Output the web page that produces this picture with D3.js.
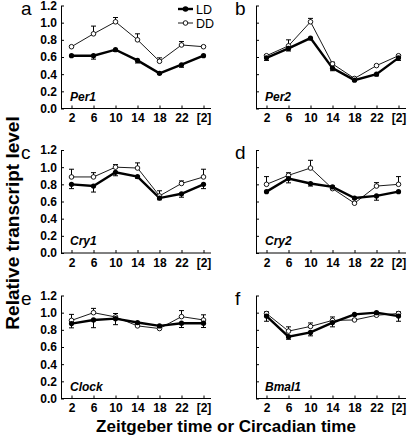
<!DOCTYPE html>
<html><head><meta charset="utf-8">
<script src="https://cdn.jsdelivr.net/npm/d3@7"></script>
<style>body{margin:0;background:#fff}svg{display:block;font-family:"Liberation Sans",Arial,sans-serif}</style>
</head><body><svg id="c" width="410" height="437"></svg>
<script>
const times = ["2","6","10","14","18","22","[2]"];
const yTicks = [0,0.2,0.4,0.6,0.8,1.0,1.2];
const genes = ["Per1","Per2","Cry1","Cry2","Clock","Bmal1"];
const letters = ["a","b","c","d","e","f"];
// LD (light-dark) means and errors
const per1LD = [0.615,0.615,0.685,0.56,0.41,0.51,0.615];
const per1LDerr = [0.01,0.04,0.02,0.03,0.01,0.03,0.01];
const per1DD = [0.72,0.87,1.01,0.80,0.55,0.74,0.72];
const per1DDerr = [0.01,0.09,0.05,0.07,0.04,0.04,0.01];
const per2LD = [0.59,0.70,0.82,0.47,0.33,0.40,0.59];
const per2LDerr = [0.03,0.03,0.02,0.03,0.01,0.02,0.03];
const per2DD = [0.615,0.73,1.01,0.52,0.35,0.50,0.615];
const per2DDerr = [0.01,0.07,0.04,0.02,0.01,0.01,0.01];
const cry1LD = [0.80,0.78,0.94,0.89,0.64,0.69,0.80];
const cry1LDerr = [0.05,0.07,0.04,0.02,0.02,0.04,0.05];
const cry1DD = [0.886,0.886,1.0,0.99,0.665,0.81,0.886];
const cry1DDerr = [0.09,0.05,0.03,0.06,0.06,0.03,0.09];
const cry2LD = [0.715,0.867,0.81,0.77,0.64,0.665,0.715];
const cry2LDerr = [0.01,0.05,0.03,0.02,0.01,0.05,0.01];
const cry2DD = [0.80,0.905,0.99,0.75,0.58,0.78,0.80];
const cry2DDerr = [0.09,0.03,0.09,0.03,0.01,0.04,0.09];
const clockLD = [0.873,0.915,0.93,0.885,0.846,0.877,0.877];
const clockLDerr = [0.05,0.09,0.07,0.01,0.01,0.05,0.05];
const clockDD = [0.91,1.0,0.95,0.846,0.815,0.954,0.915];
const clockDDerr = [0.07,0.05,0.04,0.01,0.01,0.07,0.06];
const bmal1LD = [0.96,0.72,0.77,0.885,0.98,1.0,0.96];
const bmal1LDerr = [0.06,0.03,0.04,0.05,0.01,0.01,0.06];
const bmal1DD = [0.99,0.785,0.84,0.91,0.915,0.97,0.99];
const bmal1DDerr = [0.02,0.05,0.04,0.04,0.01,0.02,0.02];

const LD = [per1LD,per2LD,cry1LD,cry2LD,clockLD,bmal1LD];
const LDerr = [per1LDerr,per2LDerr,cry1LDerr,cry2LDerr,clockLDerr,bmal1LDerr];
const DD = [per1DD,per2DD,cry1DD,cry2DD,clockDD,bmal1DD];
const DDerr = [per1DDerr,per2DDerr,cry1DDerr,cry2DDerr,clockDDerr,bmal1DDerr];

const svg = d3.select("#c");
const colX = [61, 256];
const rowTop = [5.5, 150, 295.5];
const letterBase = [14.5, 158.5, 305];
const plotH = 103, axW = 150;

genes.forEach((g, i) => {
  const col = i % 2, row = Math.floor(i / 2);
  const x0 = colX[col], top = rowTop[row], bottom = top + plotH;
  const x = d3.scalePoint().domain(times).range([x0 + 10.5, x0 + 142.5]);
  const y = d3.scaleLinear().domain([0, 1.2]).range([bottom, top]);
  const gg = svg.append("g");

  // y axis
  const ya = d3.axisLeft(y).tickValues(yTicks).tickSizeInner(-3).tickSizeOuter(0).tickPadding(4)
    .tickFormat(col === 0 ? d3.format(".1f") : () => "");
  const yg = gg.append("g").attr("transform", `translate(${x0},0)`).call(ya);
  yg.selectAll("text").attr("font-size", 12).attr("font-weight", "bold").attr("fill", "#000");
  yg.selectAll("path,line").attr("stroke", "#000").attr("stroke-width", 1);

  // x axis
  const xa = d3.axisBottom(x).tickSizeInner(-3).tickSizeOuter(0).tickPadding(5);
  const xg = gg.append("g").attr("transform", `translate(0,${bottom})`).call(xa);
  xg.select(".domain").remove();
  xg.selectAll("text").attr("font-size", 12).attr("font-weight", "bold").attr("fill", "#000");
  xg.selectAll("line").attr("stroke", "#000");
  gg.append("line").attr("x1", x0).attr("x2", x0 + axW).attr("y1", bottom).attr("y2", bottom)
    .attr("stroke", "#000").attr("stroke-width", 1);

  // panel letter
  gg.append("text").attr("x", col === 0 ? 21 : 235).attr("y", letterBase[row])
    .attr("font-size", 19).text(letters[i]);
  // gene label
  gg.append("text").attr("x", x0 + 9).attr("y", bottom - 8)
    .attr("font-size", 12).attr("font-weight", "bold").attr("font-style", "italic").text(g);

  const line = d3.line().x((d, k) => x(times[k])).y(d => y(d));
  // DD error bars (upward)
  DD[i].forEach((v, k) => {
    const cx = x(times[k]), yv = y(v), ye = y(v + DDerr[i][k]);
    gg.append("line").attr("x1", cx).attr("x2", cx).attr("y1", yv).attr("y2", ye).attr("stroke", "#000").attr("stroke-width", 1);
    gg.append("line").attr("x1", cx - 2.5).attr("x2", cx + 2.5).attr("y1", ye).attr("y2", ye).attr("stroke", "#000").attr("stroke-width", 1);
  });
  // LD error bars (downward)
  LD[i].forEach((v, k) => {
    const cx = x(times[k]), yv = y(v), ye = y(v - LDerr[i][k]);
    gg.append("line").attr("x1", cx).attr("x2", cx).attr("y1", yv).attr("y2", ye).attr("stroke", "#000").attr("stroke-width", 1);
    gg.append("line").attr("x1", cx - 2.5).attr("x2", cx + 2.5).attr("y1", ye).attr("y2", ye).attr("stroke", "#000").attr("stroke-width", 1);
  });
  gg.append("path").attr("d", line(DD[i])).attr("fill", "none").attr("stroke", "#000").attr("stroke-width", 0.9);
  gg.append("path").attr("d", line(LD[i])).attr("fill", "none").attr("stroke", "#000").attr("stroke-width", 2.4);
  gg.selectAll(".dd").data(DD[i]).join("circle").attr("class", "dd")
    .attr("cx", (d, k) => x(times[k])).attr("cy", d => y(d)).attr("r", 2.3)
    .attr("fill", "#fff").attr("stroke", "#000").attr("stroke-width", 0.9);
  gg.selectAll(".ld").data(LD[i]).join("circle").attr("class", "ld")
    .attr("cx", (d, k) => x(times[k])).attr("cy", d => y(d)).attr("r", 2.6).attr("fill", "#000");
});

// legend
const lg = svg.append("g");
lg.append("line").attr("x1", 178).attr("x2", 193).attr("y1", 9).attr("y2", 9).attr("stroke", "#000").attr("stroke-width", 2.4);
lg.append("circle").attr("cx", 185.5).attr("cy", 9).attr("r", 2.8).attr("fill", "#000");
lg.append("text").attr("x", 196).attr("y", 9).attr("dy", "0.36em").attr("font-size", 12.5).text("LD");
lg.append("line").attr("x1", 178).attr("x2", 193).attr("y1", 23).attr("y2", 23).attr("stroke", "#000").attr("stroke-width", 0.9);
lg.append("circle").attr("cx", 185.5).attr("cy", 23).attr("r", 2.3).attr("fill", "#fff").attr("stroke", "#000").attr("stroke-width", 0.9);
lg.append("text").attr("x", 196).attr("y", 23).attr("dy", "0.36em").attr("font-size", 12.5).text("DD");

// axis titles
svg.append("text").attr("transform", "translate(19,223) rotate(-90)").attr("text-anchor", "middle")
  .attr("font-size", 19).attr("font-weight", "bold").text("Relative transcript level");
svg.append("text").attr("x", 226).attr("y", 432).attr("text-anchor", "middle")
  .attr("font-size", 17).attr("font-weight", "bold").text("Zeitgeber time or Circadian time");
</script></body></html>
